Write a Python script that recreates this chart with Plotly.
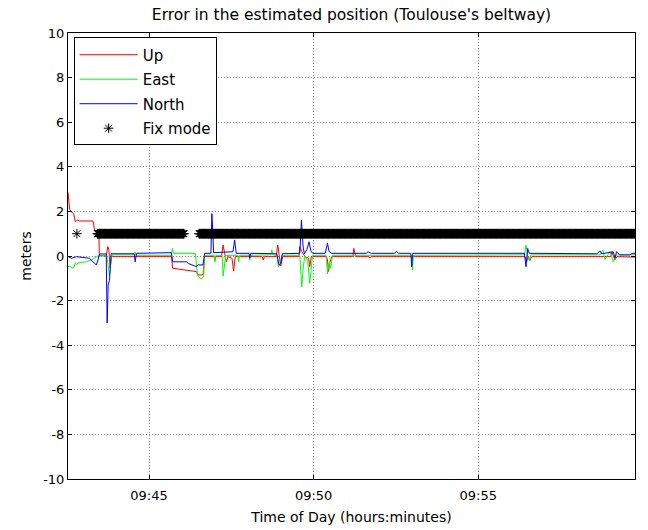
import pandas as pd
import plotly.graph_objects as go

# Time stamps are minutes after 09:00
BASE = pd.Timestamp("2012-01-01 09:00:00")

up_t = [42.54, 42.56, 42.59, 42.63, 42.68, 42.72, 42.76, 42.80, 42.84, 42.88, 43.30, 43.35, 43.40, 43.48, 43.49,
        43.70, 43.75, 43.78, 43.82, 43.86, 45.68, 45.72, 45.98, 46.14, 46.44, 46.49, 46.64, 46.69,
        46.98, 47.00, 47.03, 47.20, 47.25, 47.30, 47.35, 47.40, 47.52, 47.57, 47.62, 48.44, 48.47, 48.50,
        48.86, 48.91, 49.00, 49.06, 49.55, 49.58, 49.64, 49.75, 49.85, 49.88, 49.93,
        50.38, 50.42, 50.45, 50.49, 50.55, 51.19, 51.22, 51.28, 51.68, 51.71, 51.75,
        56.42, 56.47, 56.52, 56.57, 56.62, 59.02, 59.06, 59.15, 59.21, 59.76]
up_v = [2.85, 2.5, 2.1, 2.0, 1.95, 1.85, 1.55, 1.58, 1.62, 1.57, 1.57, 1.15, 1.09, 1.09, 0.02,
        0.0, 0.42, 0.3, -0.54, -0.03, -0.03, -0.55, -0.6, -0.66, -0.70, -0.85, -0.85, -0.02,
        -0.03, -0.2, -0.03, -0.03, 0.49, 0.1, -0.26, -0.03, -0.1, -0.68, -0.03, -0.03, -0.18, -0.03,
        -0.03, 0.49, -0.45, -0.03, -0.03, 0.42, 0.2, -0.05, -0.1, -0.48, -0.03,
        -0.03, -0.15, -0.70, -0.3, -0.03, -0.03, 0.34, -0.03, -0.03, -0.1, -0.03,
        -0.03, -0.26, 0.0, -0.2, -0.03, -0.03, 0.19, -0.18, -0.03, -0.05]

east_t = [42.54, 42.60, 42.66, 42.72, 42.76, 42.80, 42.85, 43.00, 43.10, 43.25, 43.33, 43.45, 43.72, 43.76,
          43.80, 43.84, 43.88, 44.53, 44.57, 44.61, 45.68, 45.71, 45.74, 46.41, 46.47, 46.55, 46.62, 46.66,
          46.69, 46.98, 47.00, 47.03, 47.22, 47.25, 47.29, 47.33, 47.70, 47.72, 47.75, 48.04, 48.06, 48.09,
          48.70, 48.73, 48.77, 48.88, 48.93, 48.98, 49.03, 49.58, 49.64, 49.69, 49.74, 49.82, 49.88, 49.93,
          49.97, 50.38, 50.42, 50.47, 50.52, 50.57, 52.97, 53.00, 53.03, 56.40, 56.45, 56.50, 56.55, 56.60,
          58.70, 58.78, 58.85, 59.00, 59.10, 59.20, 59.76]
east_v = [-0.48, -0.45, -0.55, -0.5, -0.33, -0.4, -0.3, -0.28, -0.26, -0.18, -0.1, 0.0, 0.02, -0.4,
          -0.9, -0.3, 0.05, 0.05, 0.19, 0.03, 0.03, 0.34, 0.12, 0.12, -0.85, -1.0, -1.0, -0.9,
          0.03, 0.03, -0.26, 0.03, 0.03, -0.9, -0.3, 0.03, 0.03, -0.26, 0.03, 0.03, -0.18, 0.03,
          0.05, 0.27, 0.05, 0.03, -0.48, -0.4, 0.03, 0.03, -1.38, -0.4, 0.0, -0.2, -1.22, -0.3,
          0.03, 0.03, -0.8, -0.3, -0.55, 0.03, 0.03, -0.63, 0.03, 0.05, 0.49, 0.0, -0.2, 0.05,
          0.05, 0.27, -0.15, 0.2, -0.26, 0.05, 0.05]

north_t = [42.54, 42.65, 42.80, 43.00, 43.19, 43.30, 43.40, 43.45, 43.50, 43.70, 43.73, 43.76, 43.80, 43.85,
           44.55, 44.58, 44.62, 45.68, 45.72, 46.14, 46.19, 46.44, 46.49, 46.64, 46.69, 46.88, 46.91, 46.94,
           46.96, 47.55, 47.60, 47.65, 48.04, 48.06, 48.09, 48.88, 48.95, 49.00, 49.05, 49.58, 49.63, 49.68,
           49.72, 49.80, 49.86, 49.92, 49.98, 50.35, 50.42, 50.47, 50.55, 51.60, 51.65, 51.75, 52.45, 52.52,
           52.58, 52.95, 52.98, 53.01, 56.40, 56.45, 56.50, 56.55, 58.60, 58.70, 58.75, 59.10, 59.15, 59.20,
           59.30, 59.60, 59.70, 59.76]
north_v = [-0.03, -0.1, -0.03, -0.05, -0.1, -0.26, -0.4, -0.18, 0.09, 0.09, -3.0, -1.3, -1.1, 0.1,
           0.1, -0.26, 0.12, 0.15, -0.26, -0.26, -0.33, -0.48, -0.4, -0.4, 0.12, 0.12, 1.9, 1.0,
           0.15, 0.19, 0.72, 0.12, 0.12, -0.1, 0.12, 0.1, -0.4, -0.35, 0.1, 0.12, 1.6, 0.4,
           0.1, 0.3, 0.64, 0.2, 0.12, 0.12, 0.57, 0.2, 0.12, 0.12, 0.19, 0.12, 0.12, 0.2,
           0.12, 0.12, -0.48, 0.12, 0.12, -0.48, 0.34, 0.12, 0.1, 0.22, 0.1, 0.19, -0.1, 0.19,
           0.05, 0.05, 0.12, 0.12]

# Fix mode epochs: intervals (minutes after 09:00) during which the fix flag is 1, one epoch per second
fix_segments = [(42.81, 42.81), (43.43, 46.06), (46.52, 59.76)]
fix_value = 1
epoch_s = 1

y_ticks = [-10, -8, -6, -4, -2, 0, 2, 4, 6, 8, 10]
y_tick_labels = ["-10", "-8", "-6", "-4", "-2", "0", "2", "4", "6", "8", "10"]
x_tick_minutes = [45, 50, 55]
x_range_minutes = [42.54, 59.76]


def to_time(mins):
    return [BASE + pd.Timedelta(minutes=m) for m in mins]


fix_t = []
for a, b in fix_segments:
    n = int(round((b - a) * 60 / epoch_s))
    fix_t += [a + i * epoch_s / 60 for i in range(n + 1)]

FONT = "DejaVu Sans, sans-serif"

fig = go.Figure()
fig.add_trace(go.Scatter(x=to_time(up_t), y=up_v, mode="lines", name="Up",
                         line=dict(color="#ff0000", width=1), legendgroup="a"))
fig.add_trace(go.Scatter(x=to_time(east_t), y=east_v, mode="lines", name="East",
                         line=dict(color="#00ff00", width=1), legendgroup="b"))
fig.add_trace(go.Scatter(x=to_time(north_t), y=north_v, mode="lines", name="North",
                         line=dict(color="#0000ff", width=1), legendgroup="c"))
fig.add_trace(go.Scatter(x=to_time(fix_t), y=[fix_value] * len(fix_t), mode="markers", name="Fix mode",
                         marker=dict(symbol="asterisk-open", size=8, color="black",
                                     line=dict(color="black", width=1)), legendgroup="d"))

axis_common = dict(showline=True, linecolor="black", linewidth=1, mirror="allticks",
                   ticks="inside", ticklen=4, tickcolor="black", automargin=False,
                   showgrid=True, gridcolor="#8c8c8c", griddash="1px,2px", gridwidth=1,
                   zeroline=False, tickfont=dict(family=FONT, size=13, color="black"))

fig.update_layout(
    width=648, height=530,
    margin=dict(l=68, r=13, t=33, b=51),
    paper_bgcolor="white", plot_bgcolor="white",
    hovermode=False,
    title=dict(text="Error in the estimated position (Toulouse's beltway)", xref="paper", x=0.5,
               xanchor="center", y=1 - 15 / 530, yanchor="middle", automargin=False,
               font=dict(family=FONT, size=15.5, color="black")),
    xaxis=dict(range=to_time(x_range_minutes), tickvals=to_time(x_tick_minutes), tickformat="%H:%M",
               ticklabelstandoff=4,
               title=dict(text="Time of Day (hours:minutes)", font=dict(family=FONT, size=14, color="black"),
                          standoff=10),
               **axis_common),
    yaxis=dict(range=[-10, 10], tickvals=y_ticks, ticktext=y_tick_labels,
               title=dict(text="meters", font=dict(family=FONT, size=14, color="black"), standoff=8),
               **axis_common),
    legend=dict(x=0.01, y=0.99, xanchor="left", yanchor="top", bgcolor="white",
                bordercolor="black", borderwidth=1, traceorder="grouped", tracegroupgap=2,
                itemwidth=58, font=dict(family=FONT, size=15, color="black")),
    showlegend=True,
)

# remove the browser's default page margin so the 648x530 figure fills the window exactly
fig.write_html("out.html", config={"displayModeBar": False, "staticPlot": False},
               post_script="document.body.style.margin='0px';document.body.style.overflow='hidden';")
